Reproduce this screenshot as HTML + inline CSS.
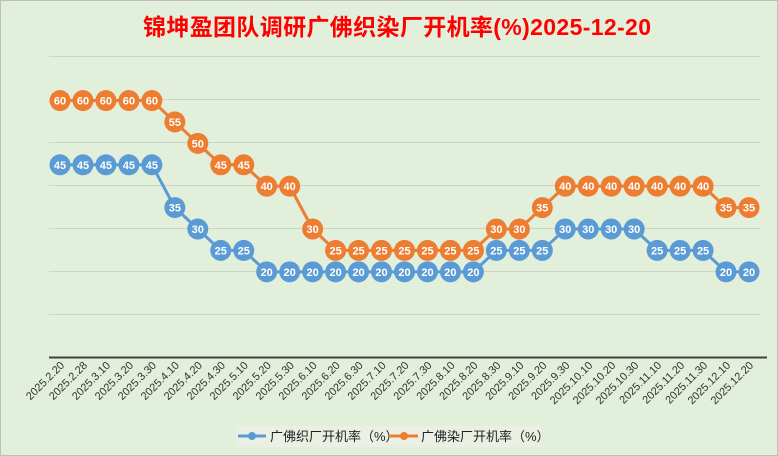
<!DOCTYPE html>
<html><head><meta charset="utf-8"><style>
body{margin:0;width:778px;height:456px;overflow:hidden;background:#e2efda}
svg{display:block}
</style></head><body>
<svg width="778" height="456" viewBox="0 0 778 456" xmlns="http://www.w3.org/2000/svg" font-family="Liberation Sans, Noto Sans CJK SC, sans-serif">
<rect x="0.5" y="0.5" width="777" height="455" fill="#e2efda" stroke="#bfbfbf"/>
<text x="397" y="35" text-anchor="middle" font-size="23" font-weight="bold" fill="#ff0000" textLength="508">锦坤盈团队调研广佛织染厂开机率(%)2025-12-20</text>
<g stroke="#ccd6c4" stroke-width="1">
<line x1="49" x2="760" y1="56.5" y2="56.5"/><line x1="49" x2="760" y1="99.5" y2="99.5"/><line x1="49" x2="760" y1="142.5" y2="142.5"/><line x1="49" x2="760" y1="185.5" y2="185.5"/><line x1="49" x2="760" y1="228.5" y2="228.5"/><line x1="49" x2="760" y1="271.5" y2="271.5"/><line x1="49" x2="760" y1="314.5" y2="314.5"/>
</g>
<line x1="49" x2="767" y1="357.5" y2="357.5" stroke="#404040" stroke-width="2"/>
<g id="c"></g>
<rect x="236" y="426" width="305" height="21" fill="#eaf1e4"/>
<line x1="238" x2="266" y1="436" y2="436" stroke="#5b9bd5" stroke-width="3"/><circle cx="252" cy="436" r="4" fill="#5b9bd5"/>
<text x="270" y="441" font-size="13" fill="#222">广佛织厂开机率（%）</text>
<line x1="390" x2="418" y1="436" y2="436" stroke="#ed7d31" stroke-width="3"/><circle cx="404" cy="436" r="4" fill="#ed7d31"/>
<text x="421" y="441" font-size="13" fill="#222">广佛染厂开机率（%）</text>
</svg>
<script>
const labels=["2.20","2.28","3.10","3.20","3.30","4.10","4.20","4.30","5.10","5.20","5.30","6.10","6.20","6.30","7.10","7.20","7.30","8.10","8.20","8.30","9.10","9.20","9.30","10.10","10.20","10.30","11.10","11.20","11.30","12.10","12.20"];
const b=[45,45,45,45,45,35,30,25,25,20,20,20,20,20,20,20,20,20,20,25,25,25,30,30,30,30,25,25,25,20,20];
const o=[60,60,60,60,60,55,50,45,45,40,40,30,25,25,25,25,25,25,25,30,30,35,40,40,40,40,40,40,40,35,35];
const X=i=>60+i*689/30, Y=v=>357.5-v*4.283;
let s="";
function series(d,c){
 s+=`<polyline fill="none" stroke="${c}" stroke-width="3" points="${d.map((v,i)=>X(i)+","+Y(v)).join(" ")}"/>`;
 d.forEach((v,i)=>{s+=`<circle cx="${X(i)}" cy="${Y(v)}" r="10.5" fill="${c}"/><text x="${X(i)}" y="${Y(v)+4}" text-anchor="middle" font-size="11" font-weight="bold" fill="#fff">${v}</text>`;});
}
series(b,"#5b9bd5");series(o,"#ed7d31");
labels.forEach((l,i)=>{s+=`<text transform="translate(${X(i)+5},${366}) rotate(-45)" text-anchor="end" font-size="11" fill="#333">2025.${l}</text>`;});
document.getElementById("c").innerHTML=s;
</script>
</body></html>
